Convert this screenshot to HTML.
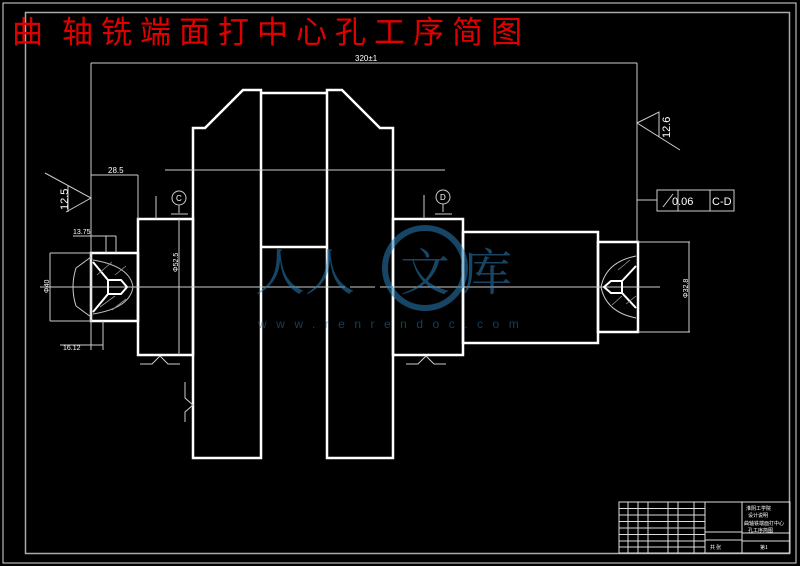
<!DOCTYPE html>
<html><head><meta charset="utf-8"><style>
html,body{margin:0;padding:0;background:#000;width:800px;height:566px;overflow:hidden}
svg{display:block}
</style></head><body>
<svg width="800" height="566" viewBox="0 0 800 566" xmlns="http://www.w3.org/2000/svg" font-family="Liberation Sans, Noto Sans CJK SC, sans-serif">
<rect x="0" y="0" width="800" height="566" fill="#000"/>
<rect x="3" y="3" width="793" height="560" fill="none" stroke="#ddd" stroke-width="1"/>
<rect x="25.5" y="12.5" width="764" height="541" fill="none" stroke="#aaa" stroke-width="1.5"/>
<g fill="#e00000" font-size="31" font-family="Noto Sans CJK SC, sans-serif">
<text x="12" y="43">曲</text>
<text x="62" y="43">轴</text>
<text x="101" y="43">铣</text>
<text x="140" y="43">端</text>
<text x="179" y="43">面</text>
<text x="218" y="43">打</text>
<text x="257" y="43">中</text>
<text x="296" y="43">心</text>
<text x="335" y="43">孔</text>
<text x="374" y="43">工</text>
<text x="413" y="43">序</text>
<text x="452" y="43">简</text>
<text x="491" y="43">图</text>
</g>

<g stroke="#fff" fill="none" stroke-width="2.5">
<rect x="91" y="253" width="47" height="68"/>
<rect x="138" y="219" width="55" height="136"/>
<path d="M193 458 V128 H205 L243 90 H261 V458 Z"/>
<path d="M261 93 H327 M261 247 H327"/>
<path d="M327 458 V90 H342 L380 128 H393 V458 Z"/>
<rect x="393" y="219" width="70" height="136"/>
<rect x="463" y="232" width="135" height="111"/>
<rect x="598" y="242" width="40" height="90"/>
</g>

<g stroke="#ccc" fill="none" stroke-width="1">
<path d="M40 287 H345 M350 287 H375 M380 287 H660"/>
<path d="M165 170 H445"/>
<path d="M91 63 H637 M91 63 V350 M637 63 V242"/>
<path d="M91 175 H138 M138 175 V219"/>
<path d="M73 236 H116 M106 236 V253 M116 236 V253"/>
<path d="M50 253 H91 M50 321 H91 M50 253 V321"/>
<path d="M60 345 H103 M103 321 V350"/>
<path d="M179 219 V355"/>
<path d="M45 173 L91 198 L66 212 M68 186 V212"/>
<path d="M637 123 L659 112 V137 M637 123 L680 150"/>
<path d="M637 200 H657"/>
<rect x="657" y="190" width="77" height="21"/>
<path d="M678 190 V211 M710 190 V211 M663 207 L673 194"/>
<path d="M638 242 H690 M638 332 H690 M689 242 V332"/>
<circle cx="179" cy="198" r="7"/>
<path d="M179 205 V213 M171 214 H188 M156 196 V219"/>
<circle cx="443" cy="197" r="7"/>
<path d="M443 204 V212 M435 214 H452 M424 195 V219"/>
<path d="M140 364 H152 L160 356 L168 364 H180"/>
<path d="M406 364 H418 L426 356 L434 364 H446"/>
<path d="M185 382 V398 L193 405 L185 412 V422"/>
<path d="M93 260 Q130 266 133 287 Q130 308 93 314" stroke="#bbb"/>
<path d="M76 268 L91 257 M76 306 L91 317 M76 268 Q70 287 76 306"/>
<path d="M636 256 Q606 262 601 287 Q606 312 636 318"/>
</g>
<g stroke="#fff" stroke-width="2" fill="none">
<path d="M93 262 L108 280 H121 L127 287 L121 294 H108 L93 312"/>
<path d="M108 280 V294"/>
<path d="M636 266 L622 281 H611 L604 287 L611 293 H622 L636 308"/>
<path d="M622 281 V293"/>
</g>
<g stroke="#999" stroke-width="0.8">
<path d="M97 275 L112 262 M115 275 L126 266 M100 307 L115 296 M112 310 L126 299"/>
<path d="M618 270 L630 260 M626 304 L636 296 M612 305 L622 296"/>
</g>

<g fill="#fff" font-size="8">
<text x="355" y="61">320±1</text>
<text x="108" y="173">28.5</text>
<text x="73" y="234" font-size="7">13.75</text>
<text x="63" y="350" font-size="7">16.12</text>
<text x="672" y="205" font-size="11">0.06</text>
<text x="712" y="205" font-size="11">C-D</text>
<text x="176" y="201" font-size="8">C</text>
<text x="440" y="200" font-size="8">D</text>
<text transform="translate(68 210) rotate(-90)" font-size="11">12.5</text>
<text transform="translate(670 138) rotate(-90)" font-size="11">12.6</text>
<text transform="translate(49 293) rotate(-90)" font-size="7">Φ40</text>
<text transform="translate(178 272) rotate(-90)" font-size="7">Φ52.5</text>
<text transform="translate(688 298) rotate(-90)" font-size="7">Φ32.8</text>
</g>

<g opacity="0.55">
<circle cx="425" cy="268" r="40" fill="none" stroke="#2a7fb8" stroke-width="6"/>
<text x="255" y="290" fill="#2a7fb8" font-size="50" font-family="Noto Serif CJK SC, serif">人人</text>
<text x="400" y="290" fill="#2a7fb8" font-size="50" font-family="Noto Serif CJK SC, serif">文</text>
<text x="462" y="290" fill="#2a7fb8" font-size="50" font-family="Noto Serif CJK SC, serif">库</text>
<text x="258" y="328" fill="#2a6f9f" font-size="12" letter-spacing="9.5">www.renrendoc.com</text>
</g>

<g stroke="#ddd" fill="none" stroke-width="1">
<rect x="619" y="502" width="171" height="51"/>
<path d="M619 508.5 H705 M619 515 H705 M619 521.5 H705 M619 528 H705 M619 534.5 H705 M619 541 H705 M619 547 H705"/>
<path d="M628 502 V553 M638 502 V553 M648 502 V553 M668 502 V553 M678 502 V553 M694 502 V553 M705 502 V553 M742 502 V553"/>
<path d="M705 532 H742 M705 540 H742 M742 533 H790 M742 541 H790"/>
</g>
<g fill="#fff" font-size="5" font-family="Noto Sans CJK SC, sans-serif">
<text x="746" y="510">淮阴工学院</text>
<text x="748" y="517">设计说明</text>
<text x="744" y="525">曲轴铣端面打中心</text>
<text x="748" y="532">孔工序简图</text>
<text x="760" y="549">第1</text>
<text x="710" y="549">共 张</text>
</g>
</svg>
</body></html>
